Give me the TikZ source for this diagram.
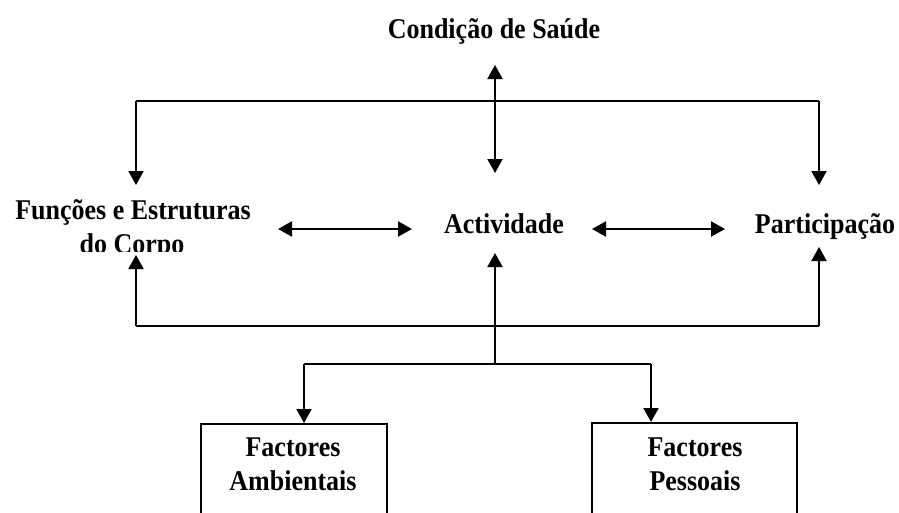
\documentclass[tikz,border=0pt]{standalone}
\usepackage{fontspec}
\setmainfont{Liberation Serif}
\usetikzlibrary{arrows.meta}
\tikzset{
  lbl/.style={font=\fontsize{26}{34}\selectfont\bfseries, inner sep=0pt, anchor=base, yscale=1.1, transform shape},
  conn/.style={line width=2pt, -{Triangle[length=14pt,width=15pt]}},
  biconn/.style={line width=2pt, {Triangle[length=14pt,width=15pt]}-{Triangle[length=14pt,width=15pt]}},
  plain/.style={line width=2pt},
  fbox/.style={draw, line width=2pt, inner sep=0pt, anchor=north west}
}
\begin{document}
\begin{tikzpicture}[x=1pt,y=-1pt]
\useasboundingbox (0,0) rectangle (899,512);
\clip (0,0) rectangle (899,512);
% labels
\node[lbl] (cond) at (494,38) {Condição de Saúde};
\node[lbl] (func1) at (133,219) {Funções e Estruturas};
\begin{scope}
\clip (0,225) rectangle (300,251);
\node[lbl] (func2) at (132,253) {do Corpo};
\end{scope}
\node[lbl] (act) at (504,233) {Actividade};
\node[lbl] (part) at (825,233) {Participação};
% boxes
\node[fbox, minimum width=186pt, minimum height=130pt] (fa) at (200,423) {};
\node[fbox, minimum width=205pt, minimum height=130pt] (fp) at (591,422) {};
\node[lbl] (fa1) at (293,456) {Factores};
\node[lbl] (fa2) at (293,490) {Ambientais};
\node[lbl] (fp1) at (695,456) {Factores};
\node[lbl] (fp2) at (695,490) {Pessoais};
% coordinates
\coordinate (cTop) at (495,65);
\coordinate (aTop) at (495,173);
\coordinate (tl) at (136,101);
\coordinate (tr) at (819,101);
\coordinate (fTop) at (136,185);
\coordinate (pTop) at (819,185);
\coordinate (fL) at (278,229);
\coordinate (aL) at (412,229);
\coordinate (aR) at (592,229);
\coordinate (pL) at (725,229);
\coordinate (fBot) at (136,255);
\coordinate (aBot) at (495,253);
\coordinate (pBot) at (819,247);
\coordinate (bl) at (136,326);
\coordinate (br) at (819,326);
\coordinate (mj) at (495,364);
\coordinate (jl) at (304,364);
\coordinate (jr) at (651,364);
\coordinate (faTop) at (304,423);
\coordinate (fpTop) at (651,422);
% connectors
\draw[biconn] (cTop) -- (aTop);
\draw[conn] (tl) -- (fTop);
\draw[plain] (tl) -- (tr);
\draw[conn] (tr) -- (pTop);
\draw[biconn] (fL) -- (aL);
\draw[biconn] (aR) -- (pL);
\draw[conn] (bl) -- (fBot);
\draw[plain] (bl) -- (br);
\draw[conn] (br) -- (pBot);
\draw[conn] (mj) -- (aBot);
\draw[plain] (jl) -- (jr);
\draw[conn] (jl) -- (faTop);
\draw[conn] (jr) -- (fpTop);
\end{tikzpicture}
\end{document}
